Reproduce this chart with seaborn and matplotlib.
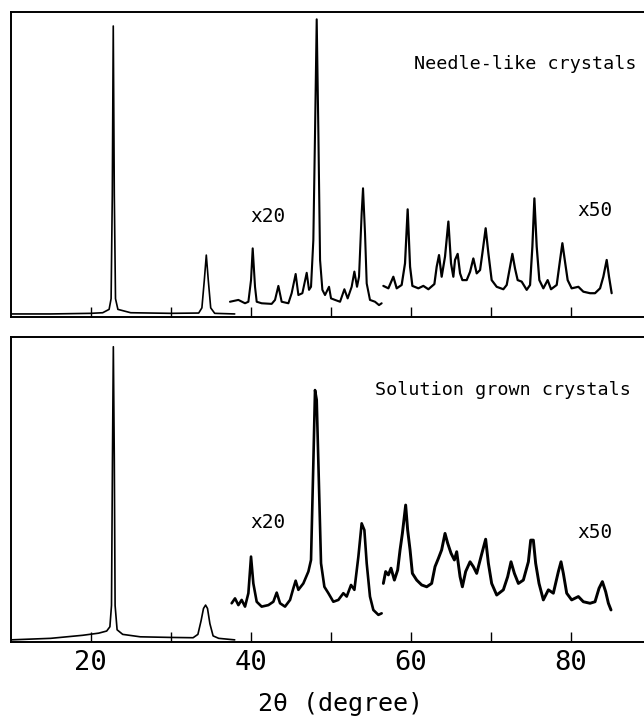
import numpy as np
import pandas as pd
import matplotlib
matplotlib.use("Agg")
import matplotlib.pyplot as plt
import seaborn as sns

# ---------------- data (2theta in degree, intensity in % of panel height) ----------------
top_main_x = [10.0, 15.0, 20.0, 21.5, 22.3, 22.55, 22.7, 22.82, 22.95, 23.1, 23.4, 25.0, 30.0,
              33.5, 33.9, 34.2, 34.45, 34.7, 35.0, 35.5, 38.0]
top_main_y = [1.0, 1.0, 1.2, 1.4, 2.5, 6.0, 40.0, 95.4, 40.0, 6.0, 2.5, 1.4, 1.2,
              1.3, 3.0, 12.0, 20.3, 12.0, 3.0, 1.2, 1.0]

top_x20_x = [37.41, 38.46, 39.29, 39.71, 40.04, 40.25, 40.54, 40.75, 41.37, 42.62, 43.04, 43.46,
             43.87, 44.71, 45.12, 45.62, 45.96, 46.46, 47.0, 47.29, 47.54, 47.83, 48.04, 48.25,
             48.46, 48.67, 48.96, 49.29, 49.79, 50.04, 50.54, 51.17, 51.71, 52.12, 52.62, 52.96,
             53.29, 53.54, 53.87, 54.04, 54.29, 54.5, 54.91, 55.54, 56.04, 56.37]
top_x20_y = [5.0, 5.6, 4.5, 5.0, 12.1, 22.5, 9.9, 5.0, 4.5, 4.3, 5.6, 10.2,
             5.0, 4.5, 7.8, 14.1, 7.2, 7.8, 14.5, 8.9, 9.9, 25.2, 60.2, 97.6,
             60.2, 18.7, 8.9, 7.2, 9.9, 6.1, 5.6, 5.0, 9.1, 6.1, 9.9, 14.9,
             9.9, 13.2, 34.0, 42.2, 27.4, 11.0, 5.6, 5.0, 3.9, 4.5]

top_x50_x = [56.58, 57.21, 57.83, 58.25, 58.87, 59.29, 59.62, 59.92, 60.21, 60.96, 61.58, 62.21,
             62.96, 63.25, 63.54, 63.87, 64.29, 64.71, 65.04, 65.33, 65.54, 65.87, 66.17, 66.46,
             67.0, 67.42, 67.83, 68.25, 68.67, 68.96, 69.37, 69.71, 70.12, 70.75, 71.58, 72.0,
             72.42, 72.71, 73.04, 73.37, 73.87, 74.5, 74.92, 75.21, 75.46, 75.75, 76.08, 76.58,
             77.12, 77.54, 78.25, 78.67, 78.96, 79.29, 79.62, 80.12, 80.96, 81.58, 82.42, 83.04,
             83.67, 84.08, 84.5, 84.79, 85.12]
top_x50_y = [10.2, 9.4, 13.2, 9.4, 10.5, 17.6, 35.3, 16.5, 10.2, 9.4, 10.2, 9.1,
             10.8, 16.5, 20.3, 13.2, 19.8, 31.3, 17.6, 13.2, 18.7, 20.7, 14.3, 12.1,
             12.1, 14.8, 19.2, 14.3, 15.4, 20.9, 29.1, 20.9, 12.1, 9.9, 9.1, 10.5,
             16.5, 20.7, 15.9, 12.1, 11.6, 8.9, 10.5, 23.1, 38.9, 23.1, 12.1, 9.4,
             12.1, 9.1, 10.5, 18.7, 24.2, 18.1, 12.1, 9.4, 9.9, 8.3, 7.8, 7.8,
             9.4, 13.2, 18.7, 13.2, 7.8]

bot_main_x = [10.0, 15.0, 19.0, 21.0, 22.0, 22.4, 22.6, 22.72, 22.83, 22.95, 23.05, 23.3, 24.0,
              26.2, 30.0, 32.8, 33.4, 33.8, 34.1, 34.36, 34.6, 34.9, 35.3, 36.0, 38.0]
bot_main_y = [0.7, 1.2, 2.2, 2.9, 3.6, 5.0, 12.0, 60.0, 96.8, 60.0, 12.0, 4.0, 2.5,
              1.7, 1.5, 1.4, 2.5, 7.0, 11.0, 12.1, 11.0, 6.0, 2.0, 1.2, 0.7]

bot_x20_x = [37.62, 38.04, 38.46, 38.87, 39.29, 39.71, 40.04, 40.33, 40.75, 41.37, 42.21, 42.83,
             43.25, 43.67, 44.29, 44.92, 45.33, 45.62, 45.96, 46.58, 47.21, 47.54, 47.83, 48.04,
             48.25, 48.46, 48.79, 49.21, 49.71, 50.33, 50.96, 51.58, 52.0, 52.54, 52.96, 53.46,
             53.87, 54.21, 54.5, 54.91, 55.33, 55.96, 56.37]
bot_x20_y = [12.7, 14.3, 12.1, 13.8, 11.6, 16.0, 28.0, 19.2, 13.2, 11.6, 12.1, 13.2,
             16.2, 12.7, 11.6, 13.8, 17.6, 20.1, 17.1, 19.2, 23.1, 26.9, 58.6, 82.6,
             79.4, 58.6, 25.8, 18.1, 16.0, 13.2, 13.8, 16.0, 14.9, 18.7, 17.1, 28.0,
             38.9, 36.7, 25.8, 14.9, 10.5, 8.9, 9.4]

bot_x50_x = [56.58, 56.87, 57.21, 57.54, 57.96, 58.37, 58.67, 58.96, 59.37, 59.62, 59.92, 60.21,
             60.75, 61.37, 62.0, 62.62, 63.04, 63.46, 63.87, 64.29, 64.62, 65.04, 65.46, 65.75,
             66.17, 66.46, 66.87, 67.42, 67.83, 68.25, 68.79, 69.37, 69.71, 70.12, 70.75, 71.58,
             72.12, 72.54, 72.96, 73.46, 74.08, 74.71, 75.0, 75.33, 75.62, 76.04, 76.58, 77.21,
             77.83, 78.46, 78.79, 79.08, 79.5, 80.12, 80.96, 81.58, 82.42, 83.04, 83.54, 83.96,
             84.37, 84.71, 85.04]
bot_x50_y = [19.2, 23.1, 22.0, 24.2, 20.3, 23.6, 30.2, 35.6, 44.9, 36.7, 30.2, 22.5,
             20.3, 18.7, 18.1, 19.2, 24.7, 27.4, 30.2, 35.6, 32.4, 29.1, 26.9, 29.6,
             21.4, 18.1, 23.1, 26.3, 24.7, 22.5, 28.0, 33.7, 25.8, 19.2, 15.4, 17.1,
             21.4, 26.3, 22.5, 19.2, 20.3, 26.3, 33.4, 33.4, 25.8, 19.2, 13.8, 17.1,
             16.0, 23.1, 26.3, 22.5, 16.0, 13.8, 14.9, 13.2, 12.7, 13.2, 17.6, 19.8,
             16.5, 12.7, 10.5]

major_ticks = [20, 40, 60, 80]
minor_ticks = [30, 50, 70]
panel_labels = ["Needle-like crystals", "Solution grown crystals"]
scale_labels = ["x20", "x50"]
x_label = "2\u03b8 (degree)"

# ---------------- figure ----------------
sns.set_theme(style="white")
plt.rcParams['font.family'] = ['DejaVu Sans Mono', 'DejaVu Sans']

W, H = 644, 719
fig = plt.figure(figsize=(W / 100, H / 100), dpi=100)
left = 10.7 / W
width = 1.0 - left
xmax = 10 + (W - 10.7) / 8.0

ax_top = fig.add_axes([left, 1 - 317 / H, width, 305 / H])
ax_bot = fig.add_axes([left, 1 - 642 / H, width, 305 / H])

segments = {
    ax_top: [(top_main_x, top_main_y, 1.2), (top_x20_x, top_x20_y, 1.5), (top_x50_x, top_x50_y, 1.6)],
    ax_bot: [(bot_main_x, bot_main_y, 1.2), (bot_x20_x, bot_x20_y, 1.9), (bot_x50_x, bot_x50_y, 2.1)],
}

for ax, segs in segments.items():
    for xs, ys, lw in segs:
        df = pd.DataFrame({"x": xs, "y": ys})
        sns.lineplot(data=df, x="x", y="y", ax=ax, color="black", linewidth=lw,
                     estimator=None, sort=False)
    ax.set_xlim(10, xmax)
    ax.set_ylim(0, 100)
    ax.set_xlabel("")
    ax.set_ylabel("")
    ax.set_yticks([])
    ax.set_xticks(major_ticks)
    ax.set_xticks(minor_ticks, minor=True)
    ax.tick_params(axis="x", which="both", direction="in", length=7.5, width=1.0,
                   colors="black", bottom=True, top=False)
    for side in ["left", "top", "bottom"]:
        ax.spines[side].set_visible(True)
        ax.spines[side].set_color("black")
        ax.spines[side].set_linewidth(1.4)
    ax.spines["right"].set_visible(False)
    ax.set_facecolor("white")

ax_top.tick_params(axis="x", labelbottom=False)
ax_bot.set_xticklabels([str(t) for t in major_ticks])
ax_bot.tick_params(axis="x", which="major", labelsize=19.5, pad=6)

# annotations (figure pixel positions)
def ftext(x, y, s, size, ha="center"):
    fig.text(x / W, 1 - y / H, s, ha=ha, va="center", fontsize=size, color="black")

ftext(636, 64, panel_labels[0], 13.2, ha="right")
ftext(631, 390, panel_labels[1], 13.2, ha="right")
ftext(268, 216, scale_labels[0], 14)
ftext(595, 210, scale_labels[1], 14)
ftext(268, 522, scale_labels[0], 14)
ftext(595, 533, scale_labels[1], 14)
ftext(340, 704, x_label, 18)

fig.savefig("out.png", dpi=100, facecolor="white")
